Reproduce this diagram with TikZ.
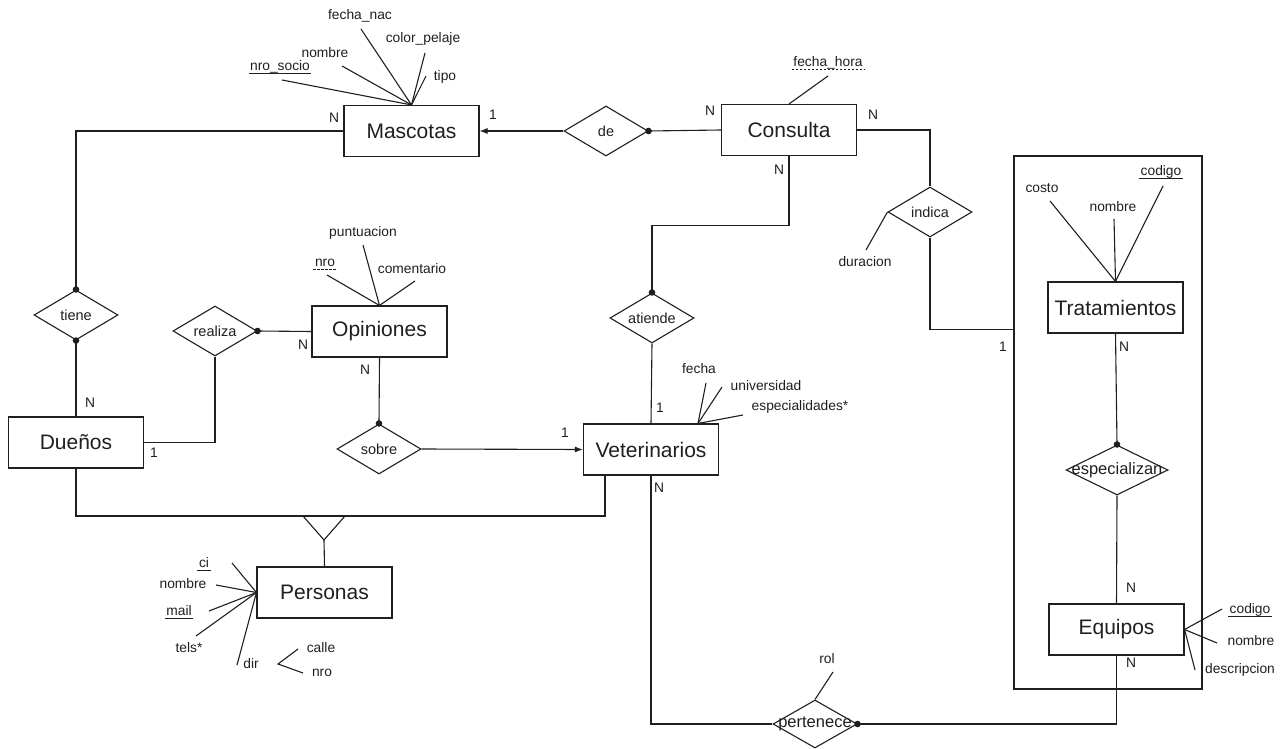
\documentclass[tikz,border=0pt]{standalone}
\usepackage{fontspec}
\setmainfont{Liberation Sans}
\usetikzlibrary{shapes.geometric,arrows.meta,calc}
\newcommand\entfont{\fontsize{21}{25}\selectfont}
\newcommand\attfont{\fontsize{13.8}{16}\selectfont}
\newcommand\relfont{\fontsize{14.5}{17}\selectfont}
\begin{document}
\begin{tikzpicture}[x=1pt,y=-1pt,line width=1.1pt,color=black!88,
  entity/.style={draw,rectangle,minimum width=135pt,minimum height=51pt,inner sep=0pt,font=\entfont},
  rel/.style={draw,diamond,minimum width=84pt,minimum height=50pt,inner sep=0pt},
  reltxt/.style={font=\relfont,inner sep=0pt},
  attr/.style={font=\attfont,inner sep=1pt},
  card/.style={font=\attfont,inner sep=0pt},
  keyline/.style={line width=0.9pt},
  partkey/.style={line width=0.9pt,dash pattern=on 2.5pt off 1.5pt},
  arr/.style={-{Latex[length=8pt,width=6pt]}}]
\useasboundingbox (0,0) rectangle (1287,749);

% ---------- entities ----------
\node[entity] (mas) at (411.5,131) {Mascotas};
\node[entity] (con) at (789,130) {Consulta};
\node[entity] (due) at (76,442.5) {Dueños};
\node[entity] (opi) at (379.5,331.5) {Opiniones};
\node[entity] (vet) at (651,449.5) {Veterinarios};
\node[entity] (per) at (324.5,592.5) {Personas};
\node[entity] (tra) at (1115.5,307.5) {Tratamientos};
\node[entity] (equ) at (1116.5,629.5) {Equipos};

% aggregation frame around Tratamientos / Equipos
\node[draw,rectangle,minimum width=188pt,minimum height=533pt,inner sep=0pt] (agg) at (1108,422.5) {};

% ---------- relationships ----------
\node[rel,label={[reltxt]center:tiene}] (tie) at (76,315) {};
\node[rel,label={[reltxt]center:realiza}] (rea) at (215,331) {};
\node[rel,label={[reltxt]center:sobre}] (sob) at (379,449) {};
\node[rel,label={[reltxt]center:atiende}] (ati) at (652,318) {};
\node[rel,label={[reltxt]center:de}] (de) at (606,131) {};
\node[rel,label={[reltxt]center:indica}] (ind) at (930,212) {};
\node[rel,minimum width=102pt,label={[reltxt,font=\fontsize{16.5}{18}\selectfont]center:especializan}] (esp) at (1117,470) {};
\node[rel,minimum height=48pt,label={[reltxt,font=\fontsize{16.5}{18}\selectfont]center:pertenece}] (pert) at (815,724) {};

% ---------- connectors ----------
\draw (mas.west) -| (tie.north);
\draw (tie.south) -- (due.north);
\draw (due.east) -| (rea.south);
\draw (rea.east) -- (opi.west);
\draw (opi.south) -- (sob.north);
\draw[arr] (sob.east) -- (vet.west);
\draw (con.west) -- (de.east);
\draw[arr] (de.west) -- (mas.east);
\draw (con.south) -- ++(0,69) -| (ati.north);
\draw (ati.south) -- (vet.north);
\draw (con.east) -| (ind.north);
\draw (ind.south) |- ($(agg.north west)+(0,174)$);
\draw (tra.south) -- (esp.north);
\draw (esp.south) -- (equ.north);
\draw (equ.south) |- (pert.east);
\draw (pert.west) -| (vet.south);

% generalization Dueños / Veterinarios -> Personas
\coordinate (gen) at (324,516);
\draw (due.south) |- (gen) -| ([xshift=-46pt]vet.south);
\draw ([xshift=-21pt]gen) -- ([xshift=21pt]gen) -- ([yshift=-24pt]gen) -- cycle;
\draw ([yshift=-24pt]gen) -- (per.north);

% participation dots
\fill (tie.north) circle (3.3pt);
\fill (tie.south) circle (3.3pt);
\fill (rea.east) circle (3.3pt);
\fill (sob.north) circle (3.3pt);
\fill (de.east) circle (3.3pt);
\fill (ati.north) circle (3.3pt);
\fill (esp.north) circle (3.3pt);
\fill (pert.east) circle (3.3pt);

% ---------- cardinalities ----------
\node[card] (k1) at (334,118) {N};
\node[card] (k2) at (493,115) {1};
\node[card] (k3) at (710,111) {N};
\node[card] (k4) at (873,115) {N};
\node[card] (k5) at (779,170) {N};
\node[card] (k6) at (303,345) {N};
\node[card] (k7) at (365,370) {N};
\node[card] (k8) at (90,403) {N};
\node[card] (k9) at (154,453) {1};
\node[card] (k10) at (565,433) {1};
\node[card] (k11) at (660,408) {1};
\node[card] (k12) at (659,488) {N};
\node[card] (k13) at (1003,347) {1};
\node[card] (k14) at (1124,347) {N};
\node[card] (k15) at (1131,588) {N};
\node[card] (k16) at (1131,663) {N};

% ---------- attributes: Mascotas ----------
\node[attr] (m-fn) at (360,16) {fecha\_nac};
\node[attr] (m-cp) at (423,39) {color\_pelaje};
\node[attr] (m-no) at (325,53) {nombre};
\node[attr] (m-ns) at (280,67) {nro\_socio};
\node[attr] (m-ti) at (445,77) {tipo};
\coordinate (m-fn-e) at (361,29);
\coordinate (m-cp-e) at (425,53);
\coordinate (m-no-e) at (342,66);
\coordinate (m-ns-e) at (282,80);
\coordinate (m-ti-e) at (426,76);
\foreach \e in {m-fn-e,m-cp-e,m-no-e,m-ns-e,m-ti-e} \draw (mas.north) -- (\e);
\draw[keyline] ([yshift=-2.5pt]m-ns.base west) -- ([yshift=-2.5pt]m-ns.base east);

% ---------- attributes: Consulta ----------
\node[attr] (c-fh) at (828,63) {fecha\_hora};
\coordinate (c-fh-e) at (828,76);
\draw (con.north) -- (c-fh-e);
\draw[partkey] ([yshift=-2.5pt]c-fh.base west) -- ([yshift=-2.5pt]c-fh.base east);

% ---------- attributes: Opiniones ----------
\node[attr] (o-pu) at (363,233) {puntuacion};
\node[attr] (o-nr) at (325,263) {nro};
\node[attr] (o-co) at (412,269) {comentario};
\coordinate (o-pu-e) at (363,245);
\coordinate (o-nr-e) at (327,275);
\coordinate (o-co-e) at (415,281);
\foreach \e in {o-pu-e,o-nr-e,o-co-e} \draw (opi.north) -- (\e);
\draw[partkey] ([yshift=-2.5pt]o-nr.base west) -- ([yshift=-2.5pt]o-nr.base east);

% ---------- attributes: Veterinarios ----------
\node[attr] (v-fe) at (699,369) {fecha};
\node[attr] (v-un) at (766,386) {universidad};
\node[attr] (v-es) at (800,407) {especialidades*};
\coordinate (v-fe-e) at (706,383);
\coordinate (v-un-e) at (722,387);
\coordinate (v-es-e) at (743,415);
\foreach \e in {v-fe-e,v-un-e,v-es-e} \draw ([xshift=47pt]vet.north) -- (\e);

% ---------- attributes: indica / pertenece ----------
\node[attr] (i-du) at (865,262) {duracion};
\coordinate (i-du-e) at (866,250);
\draw (ind.west) -- (i-du-e);
\node[attr] (p-ro) at (827,659) {rol};
\coordinate (p-ro-e) at (833,672);
\draw (pert.north) -- (p-ro-e);

% ---------- attributes: Tratamientos ----------
\node[attr] (t-cs) at (1042,188) {costo};
\node[attr] (t-no) at (1113,207) {nombre};
\node[attr] (t-cd) at (1161,172) {codigo};
\coordinate (t-cs-e) at (1050,201);
\coordinate (t-no-e) at (1114,219);
\coordinate (t-cd-e) at (1163,186);
\foreach \e in {t-cs-e,t-no-e,t-cd-e} \draw (tra.north) -- (\e);
\draw[keyline] ([yshift=-2.5pt]t-cd.base west) -- ([yshift=-2.5pt]t-cd.base east);

% ---------- attributes: Equipos ----------
\node[attr] (e-cd) at (1250,610) {codigo};
\node[attr] (e-no) at (1251,641) {nombre};
\node[attr] (e-de) at (1240,670) {descripcion};
\coordinate (e-cd-e) at (1222,609);
\coordinate (e-no-e) at (1217,643);
\coordinate (e-de-e) at (1195,670);
\foreach \e in {e-cd-e,e-no-e,e-de-e} \draw (equ.east) -- (\e);
\draw[keyline] ([yshift=-2.5pt]e-cd.base west) -- ([yshift=-2.5pt]e-cd.base east);

% ---------- attributes: Personas ----------
\node[attr] (p-ci) at (204,563) {ci};
\node[attr] (p-no) at (183,584) {nombre};
\node[attr] (p-ma) at (179,611) {mail};
\node[attr] (p-te) at (189,648) {tels*};
\node[attr] (p-di) at (251,664) {dir};
\node[attr] (p-ca) at (321,648) {calle};
\node[attr] (p-nr) at (322,673) {nro};
\coordinate (p-ci-e) at (232,563);
\coordinate (p-no-e) at (216,585);
\coordinate (p-ma-e) at (209,611);
\coordinate (p-te-e) at (196,636);
\coordinate (p-di-e) at (237,665);
\foreach \e in {p-ci-e,p-no-e,p-ma-e,p-te-e,p-di-e} \draw (per.west) -- (\e);
\draw[keyline] ([yshift=-2.5pt]p-ci.base west) -- ([yshift=-2.5pt]p-ci.base east);
\draw[keyline] ([yshift=-2.5pt]p-ma.base west) -- ([yshift=-2.5pt]p-ma.base east);
% composite address: dir -> calle, nro
\coordinate (d-top) at (298,649);
\coordinate (d-mid) at (278,664);
\coordinate (d-bot) at (303,673);
\draw (d-top) -- (d-mid) -- (d-bot);
\end{tikzpicture}
\end{document}
